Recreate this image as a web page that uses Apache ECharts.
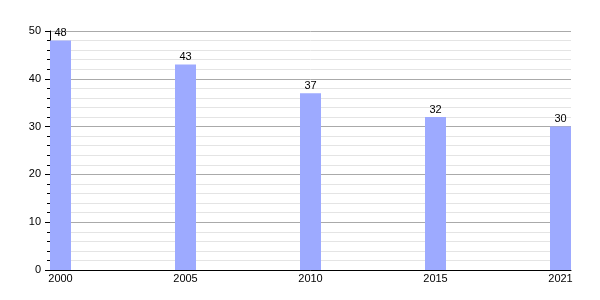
<!DOCTYPE html>
<html>
<head>
<meta charset="utf-8">
<script src="https://cdn.jsdelivr.net/npm/echarts@6/dist/echarts.min.js"></script>
<style>html,body{margin:0;padding:0;background:#fff}#c{width:600px;height:300px}</style>
</head>
<body>
<div id="c"></div>
<script>
const years = ['2000', '2005', '2010', '2015', '2021'];
const values = [48, 43, 37, 32, 30];
const yTicks = [0, 10, 20, 30, 40, 50];

const chart = echarts.init(document.getElementById('c'), null, {renderer: 'canvas'});
const font = 'Liberation Sans, Arial, sans-serif';
chart.setOption({
  animation: false,
  grid: {left: 50, right: 29, top: 31, bottom: 30, containLabel: false},
  xAxis: {
    type: 'value',
    min: -0.084,
    max: years.length - 1 + 0.084,
    axisLine: {show: true, onZero: false, lineStyle: {color: '#000', width: 1}},
    axisTick: {show: false},
    splitLine: {show: false},
    axisLabel: {
      customValues: years.map((_, i) => i),
      formatter: v => years[Math.round(v)],
      color: '#000', fontFamily: font, fontSize: 11, margin: 3
    }
  },
  yAxis: {
    type: 'value',
    min: yTicks[0], max: yTicks[yTicks.length - 1], interval: 10,
    axisLine: {show: true, onZero: false, lineStyle: {color: '#000', width: 1}},
    axisTick: {show: true, length: 5, lineStyle: {color: '#000'}},
    minorTick: {show: true, splitNumber: 5, length: 3, lineStyle: {color: '#000'}},
    splitLine: {show: true, lineStyle: {color: '#aaaaaa', width: 1}},
    minorSplitLine: {show: true, lineStyle: {color: '#e4e4e4', width: 1}},
    axisLabel: {color: '#000', fontFamily: font, fontSize: 11, margin: 9}
  },
  series: [{
    type: 'bar',
    data: values.map((v, i) => [i, v]),
    barWidth: 21,
    itemStyle: {color: '#9daaff'},
    label: {show: true, position: 'top', distance: 2, color: '#000', fontFamily: font, fontSize: 11}
  }]
});
</script>
</body>
</html>
